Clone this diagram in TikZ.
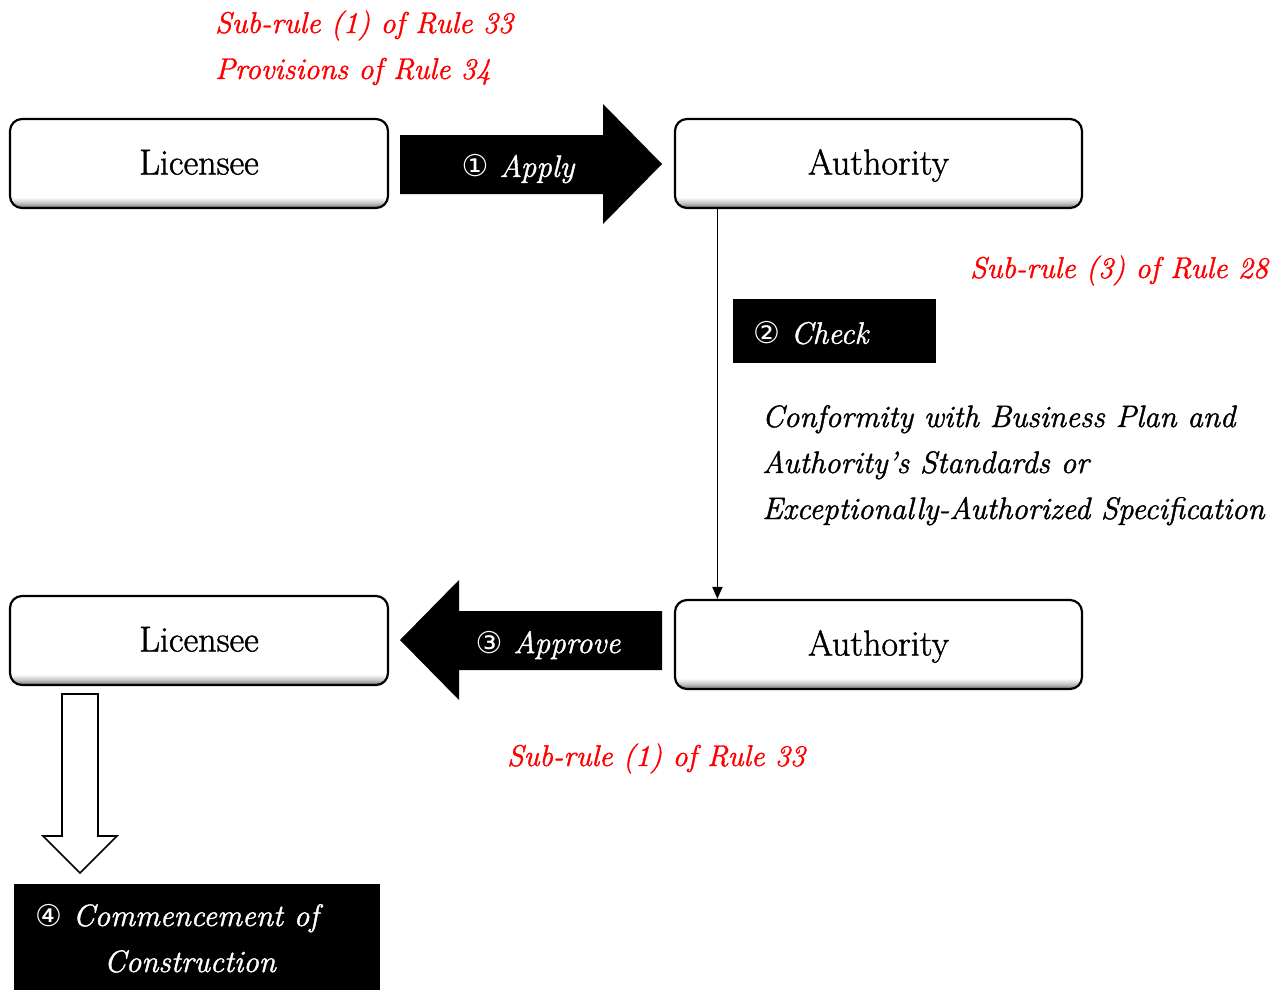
\documentclass[tikz,border=0pt]{standalone}
\usepackage{fontspec}
\newfontfamily\circfont{DejaVu Sans}
% slightly emboldened Latin Modern for all labels
\newfontfamily\heavyfont{Latin Modern Roman}[FakeBold=1.3]
\usetikzlibrary{arrows.meta}
\definecolor{rulered}{RGB}{255,0,0}
% white face with a soft grey band along the bottom edge (path spans 25bp..75bp)
\pgfdeclareverticalshading{boxshade}{100bp}{color(0bp)=(black!55); color(25bp)=(black!55); color(28bp)=(black!22); color(31bp)=(white); color(100bp)=(white)}
\tikzset{
  partybox/.style={draw=black, line width=2.2pt, rounded corners=12pt, shading=boxshade,
    minimum height=89pt, inner sep=0pt, text height=25pt, text depth=3pt,
    font=\heavyfont\fontsize{36}{42}\selectfont},
  stagebox/.style={fill=black, inner sep=0pt},
  ruletext/.style={anchor=base west, inner sep=0pt, text=rulered, font=\heavyfont\fontsize{30}{36}\selectfont\itshape},
  notetext/.style={anchor=base west, inner sep=0pt, text=black, font=\heavyfont\fontsize{31}{37}\selectfont\itshape},
  blockarrow/.style={fill=black, draw=none},
  hollowarrow/.style={draw=black, line width=1.6pt, fill=white, line join=miter},
  arrowlabel/.style={text=white, inner sep=0pt, font=\heavyfont\fontsize{31}{37}\selectfont\itshape},
}
\newcommand{\circnum}[1]{{\circfont\fontsize{30}{34}\selectfont #1}}
\begin{document}
\begin{tikzpicture}[x=1pt,y=-1pt]
\useasboundingbox (0,0) rectangle (1287,990);

% parties
\node[partybox, minimum width=378pt] (lic1) at (199,163.5) {Licensee};
\node[partybox, minimum width=407pt] (auth1) at (878.5,163.5) {Authority};
\node[partybox, minimum width=378pt] (lic2) at (199,640.5) {Licensee};
\node[partybox, minimum width=407pt] (auth2) at (878.5,644.5) {Authority};

% step 1: apply
\fill[blockarrow] (400,135) -- (603,135) -- (603,104) -- (662,164) -- (603,224) -- (603,194) -- (400,194) -- cycle;
\node[arrowlabel] (apply) at (518,169) {\circnum{①}\ Apply};

% step 2: check
\draw[line width=1.7pt, -{Triangle[length=12pt,width=10pt]}]
  ([xshift=43.5pt]auth1.south west) -- ([xshift=43.5pt]auth2.north west);
\node[stagebox, minimum width=203pt, minimum height=64pt] (check) at (834.5,331) {};
\node[arrowlabel, anchor=west] (checklbl) at (753,333) {\circnum{②}\ Check};

% step 3: approve
\fill[blockarrow] (662,611) -- (459,611) -- (459,580) -- (400,640) -- (459,700) -- (459,670) -- (662,670) -- cycle;
\node[arrowlabel] (approve) at (548,645) {\circnum{③}\ Approve};

% step 4: commencement
\draw[hollowarrow] (62,694) -- (98,694) -- (98,836) -- (117,836) -- (80,873) -- (43,836) -- (62,836) -- cycle;
\node[stagebox, minimum width=366pt, minimum height=106pt] (start) at (197,937) {};
\node[arrowlabel, anchor=base west] (startl1) at (35,926) {\circnum{④}\ Commencement of};
\node[arrowlabel, anchor=base] (startl2) at (190,972) {Construction};

% legal references
\node[ruletext] (r1) at (215,33) {Sub-rule (1) of Rule 33};
\node[ruletext] (r2) at (215,79) {Provisions of Rule 34};
\node[ruletext] (r3) at (970,278) {Sub-rule (3) of Rule 28};
\node[ruletext] (r4) at (507,766) {Sub-rule (1) of Rule 33};

% check criteria
\node[notetext] (c1) at (762,427) {Conformity with Business Plan and};
\node[notetext] (c2) at (762,473) {Authority’s Standards or};
\node[notetext] (c3) at (762,519) {Exceptionally-Authorized Specification};
\end{tikzpicture}
\end{document}
